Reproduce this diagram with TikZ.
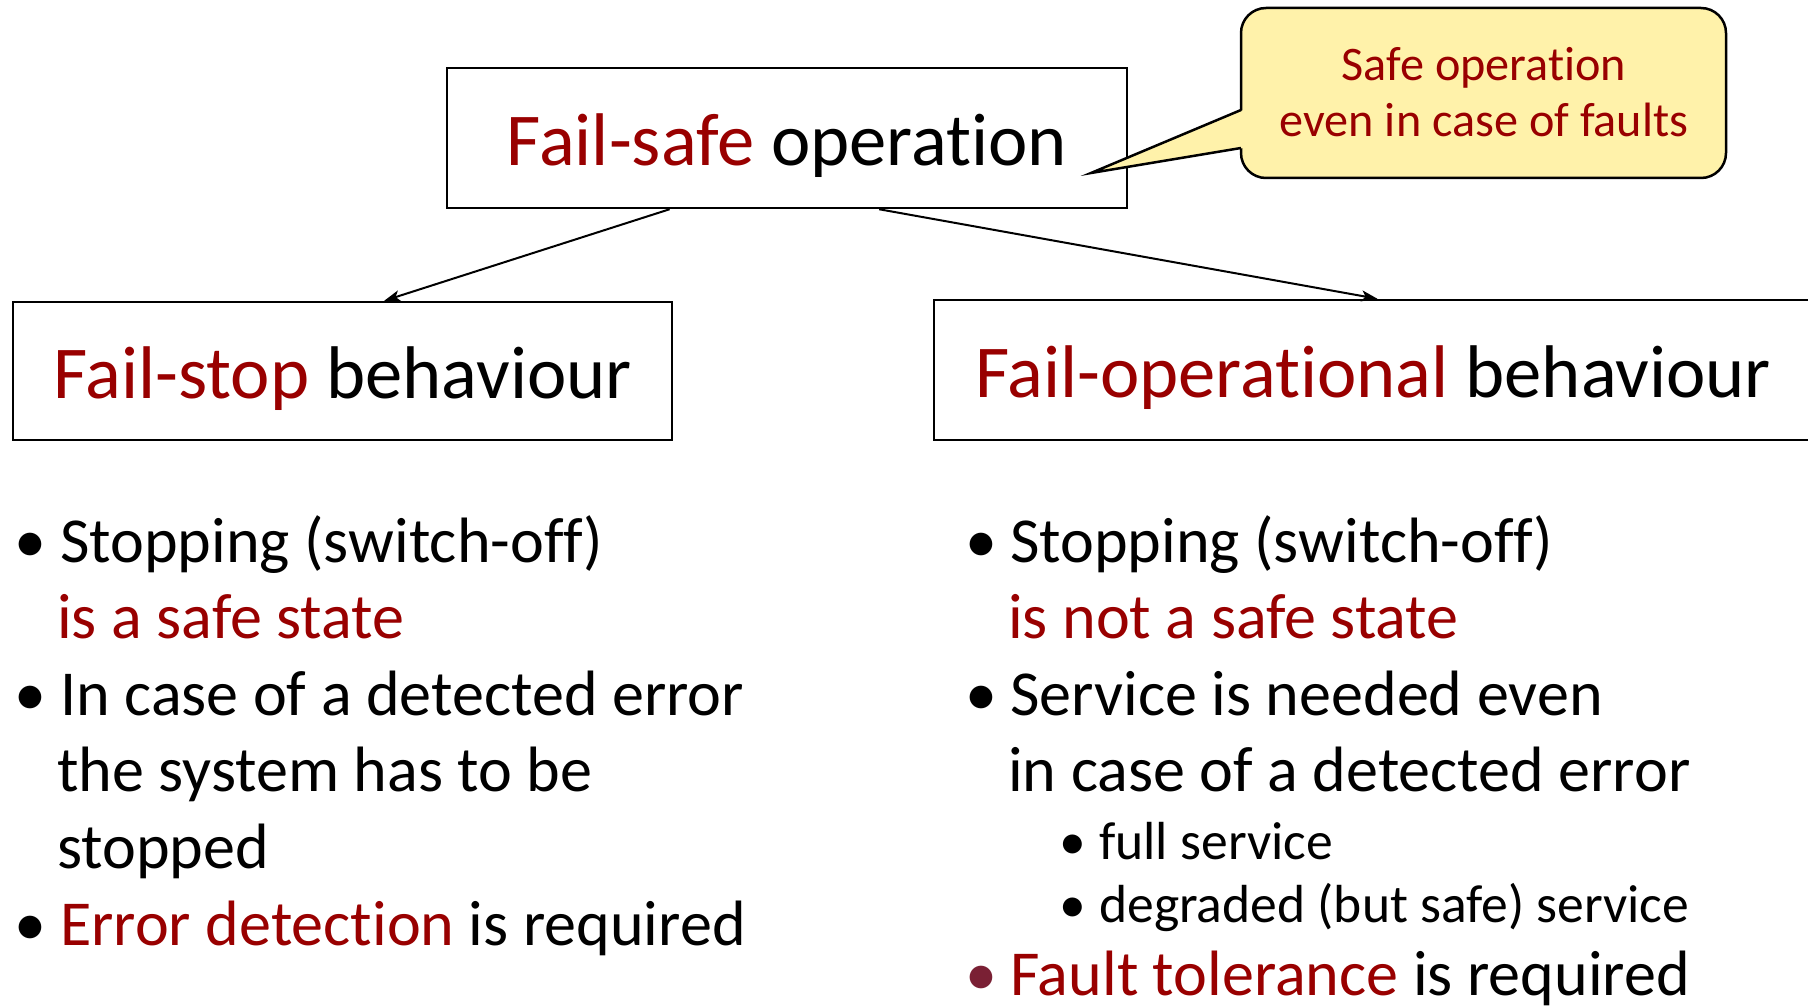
\documentclass[tikz,border=0pt]{standalone}
\usepackage{fontspec}
\setmainfont{Carlito}[Ligatures={NoCommon,NoContextual,NoRequired}]
\usetikzlibrary{arrows.meta,calc}
\definecolor{darkred}{RGB}{153,0,0}
\definecolor{maroon}{RGB}{122,32,52}
\definecolor{callfill}{RGB}{255,242,170}
\newcommand{\titlefont}{\fontsize{74.6}{89}\selectfont}
\newcommand{\bodyfont}{\fontsize{64.1}{77}\selectfont}
\newcommand{\subfont}{\fontsize{53.6}{64}\selectfont}
\newcommand{\callfont}{\fontsize{48.2}{58}\selectfont}
\begin{document}
\begin{tikzpicture}[x=1pt,y=-1pt,
  box/.style={draw=black,line width=2.5pt,fill=white,inner sep=0pt,
    text height=60pt,text depth=6pt,font=\titlefont},
  line/.style={anchor=base west,inner sep=0pt,font=\bodyfont},
  subline/.style={anchor=base west,inner sep=0pt,font=\subfont},
  conn/.style={line width=2pt,-{Stealth[length=16pt,width=11pt,inset=4pt]}},
  callbox/.style={draw=black,line width=2.5pt,fill=callfill,rounded corners=25pt,
    inner sep=0pt,minimum width=485pt,minimum height=170pt}]
\useasboundingbox (0,0) rectangle (1808,1006);
\fill[white] (0,0) rectangle (1808,1006);

% boxes
\node[box,minimum width=680pt,minimum height=140pt] (top) at (787,138)
  {\textcolor{darkred}{Fail-safe} operation};
\node[box,minimum width=659pt,minimum height=138pt] (left) at (342.5,371)
  {\textcolor{darkred}{Fail-stop} behaviour};
\node[box,minimum width=878pt,minimum height=140pt] (right) at (1373,370)
  {\textcolor{darkred}{Fail-operational} behaviour};

% connectors
\draw[conn] ($(top.south west)!0.328!(top.south east)$) -- ($(left.north west)!0.563!(left.north east)$);
\draw[conn] ($(top.south west)!0.635!(top.south east)$) -- ($(right.north west)!0.505!(right.north east)$);

% callout
\node[callbox] (call) at (1483.5,93) {};
\coordinate (tip) at (1091,173);
\coordinate (pa) at (1241,110);
\coordinate (pb) at (1241,148);
\fill[callfill] ($(pa)+(2.5,0)$) -- (tip) -- ($(pb)+(2.5,0)$) -- cycle;
\draw[line width=2.5pt,line join=miter] (pa) -- (tip) -- (pb);
\node[anchor=base,inner sep=0pt,font=\callfont,text=darkred] (c1) at (1484,81) {Safe operation};
\node[anchor=base,inner sep=0pt,font=\callfont,text=darkred] (c2) at (1484,137) {even in case of faults};

% left column
\node[line] (lb1) at (14,562) {•};
\node[line] (l1) at (60,562) {Stopping (switch-off)};
\node[line,text=darkred] (l2) at (57,638) {is a safe state};
\node[line] (lb2) at (14,715) {•};
\node[line] (l3) at (60,715) {In case of a detected error};
\node[line] (l4) at (57,791) {the system has to be};
\node[line] (l5) at (57,868) {stopped};
\node[line] (lb3) at (14,945) {•};
\node[line] (l6) at (60,945) {\textcolor{darkred}{Error detection} is required};

% right column
\node[line] (rb1) at (965,562) {•};
\node[line] (r1) at (1010,562) {Stopping (switch-off)};
\node[line,text=darkred] (r2) at (1008,638) {is not a safe state};
\node[line] (rb2) at (965,715) {•};
\node[line] (r3) at (1010,715) {Service is needed even};
\node[line] (r4) at (1008,791) {in case of a detected error};
\node[subline] (rs1) at (1059,859) {•};
\node[subline] (r5) at (1099,859) {full service};
\node[subline] (rs2) at (1059,922) {•};
\node[subline] (r6) at (1099,922) {degraded (but safe) service};
\node[line,text=maroon] (rb3) at (965,995) {•};
\node[line] (r7) at (1010,995) {\textcolor{darkred}{Fault tolerance} is required};
\end{tikzpicture}
\end{document}
